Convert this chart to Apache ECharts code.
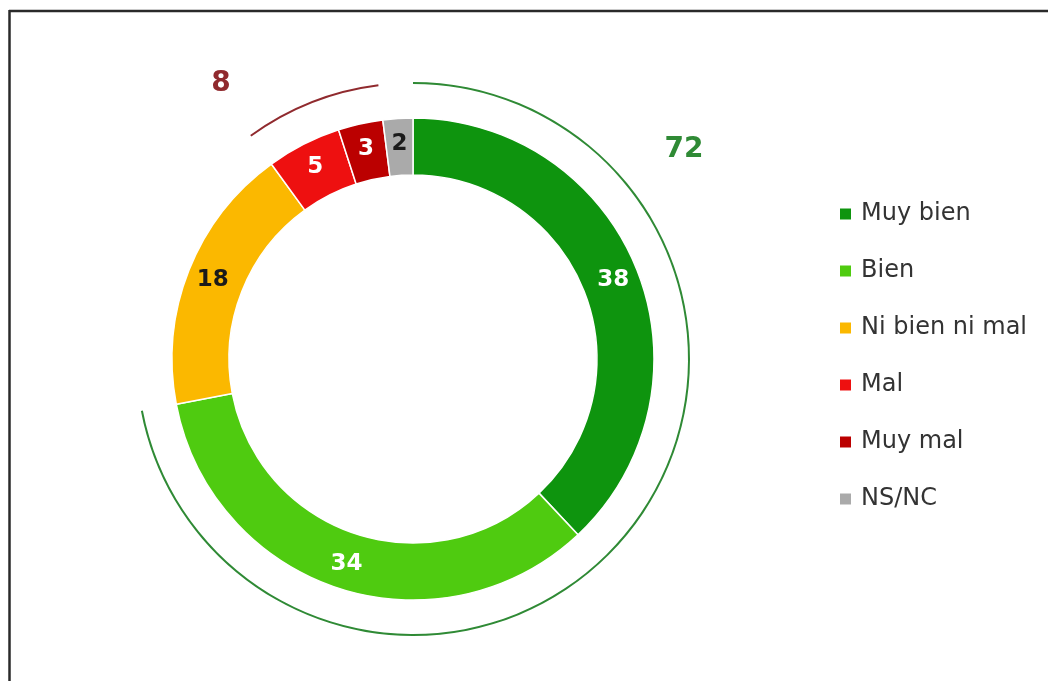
<!DOCTYPE html>
<html>
<head>
<meta charset="utf-8">
<script src="https://cdn.jsdelivr.net/npm/echarts@6/dist/echarts.min.js"></script>
<style>
  html, body { margin: 0; padding: 0; background: #fff; }
  #chart { width: 1048px; height: 681px; }
</style>
</head>
<body>
<div id="chart"></div>
<script>
// Categories and shares (%)
const categories = ["Muy bien", "Bien", "Ni bien ni mal", "Mal", "Muy mal", "NS/NC"];
const values = [38, 34, 18, 5, 3, 2];
const colors = ["#0e940e", "#4fcb10", "#fbb800", "#ee1010", "#bb0000", "#aaaaaa"];
const labelColors = ["#fff", "#fff", "#1a1a1a", "#fff", "#fff", "#1a1a1a"];

// Outer bracket arcs: positive (Muy bien + Bien) and negative (Mal + Muy mal)
const groupNames = ["positivo", "hueco1", "negativo", "hueco2"];
const groupValues = [
  values[0] + values[1],
  values[2],
  values[3] + values[4],
  values[5]
];
const groupColors = ["#2f8a35", "transparent", "#902a2e", "transparent"];

const chart = echarts.init(document.getElementById("chart"));

const font = "DejaVu Sans, sans-serif";

chart.setOption({
  animation: false,
  backgroundColor: "#fff",
  legend: {
    orient: "vertical",
    left: 833,
    top: 197,
    itemWidth: 13,
    itemHeight: 13,
    itemGap: 33,
    icon: "rect",
    selectedMode: false,
    data: categories,
    textStyle: {
      fontFamily: font,
      fontSize: 24,
      lineHeight: 24,
      color: "#333",
      padding: [0, 0, 0, 4]
    }
  },
  graphic: [
    // frame lines (top & left only)
    { type: "line", shape: { x1: 9, y1: 11, x2: 1048, y2: 11 }, style: { stroke: "#2a2a2a", lineWidth: 2.5 } },
    { type: "line", shape: { x1: 9.5, y1: 10, x2: 9.5, y2: 681 }, style: { stroke: "#2a2a2a", lineWidth: 2.5 } },
    {
      type: "text", x: 684, y: 150,
      style: {
        text: String(groupValues[0]), fill: "#2f8a35",
        font: "bold 28px " + font, textAlign: "center", textVerticalAlign: "middle"
      }
    },
    {
      type: "text", x: 221, y: 84,
      style: {
        text: String(groupValues[2]), fill: "#902a2e",
        font: "bold 28px " + font, textAlign: "center", textVerticalAlign: "middle"
      }
    }
  ],
  series: [
    {
      type: "pie",
      center: [413, 359],
      radius: [184, 241],
      startAngle: 90,
      clockwise: true,
      avoidLabelOverlap: false,
      silent: true,
      itemStyle: { borderColor: "#fff", borderWidth: 1.5 },
      label: {
        show: true,
        position: "inside",
        fontFamily: font,
        fontWeight: "bold",
        fontSize: 23
      },
      labelLine: { show: false },
      data: categories.map((c, i) => ({
        name: c,
        value: values[i],
        itemStyle: { color: colors[i] },
        label: { color: labelColors[i], formatter: String(values[i]) }
      }))
    },
    {
      type: "pie",
      center: [413, 359],
      radius: [275, 277],
      startAngle: 90,
      clockwise: true,
      silent: true,
      label: { show: false },
      labelLine: { show: false },
      data: groupNames.map((g, i) => ({
        name: g,
        value: groupValues[i],
        itemStyle: { color: groupColors[i] }
      }))
    }
  ]
});
</script>
</body>
</html>
